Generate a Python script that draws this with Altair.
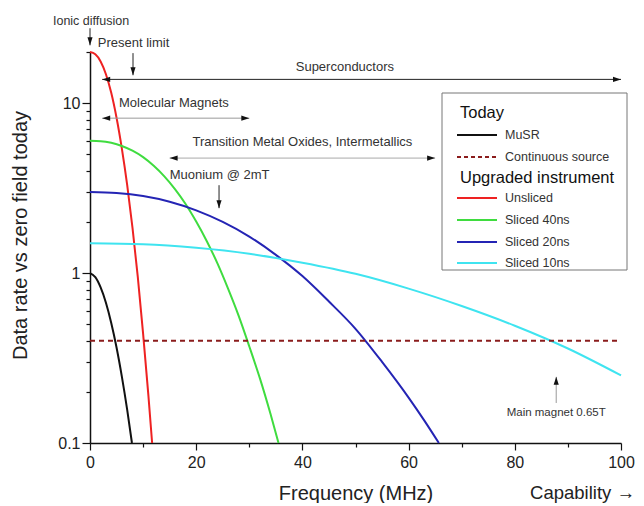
import altair as alt
import pandas as pd

FONT = "Liberation Sans"

# ---- curves ----
freq_musr = [0, 1, 2, 3, 4, 5, 6, 7, 7.9]
val_musr = [1, 0.946, 0.823, 0.669, 0.509, 0.365, 0.246, 0.157, 0.1]
freq_unsliced = [0, 1, 2, 3, 4, 5, 6, 7, 8, 9, 10, 11, 11.7]
val_unsliced = [20, 19.4, 17.6, 14.8, 11.5, 8.2, 5.4, 3.3, 1.85, 0.95, 0.44, 0.19, 0.1]
freq_40 = [0, 2, 4, 6, 8, 10, 12, 14, 16, 18, 20, 22, 24, 26, 28, 30, 32, 34, 35.5]
val_40 = [6, 5.97, 5.84, 5.60, 5.25, 4.81, 4.28, 3.71, 3.12, 2.55, 2.01, 1.54, 1.14, 0.81, 0.56, 0.37, 0.24, 0.148, 0.1]
freq_20 = [0, 5, 10, 15, 20, 25, 30, 35, 40, 45, 50, 55, 60, 63, 65.7]
val_20 = [3, 2.96, 2.84, 2.63, 2.34, 2.00, 1.64, 1.28, 0.96, 0.68, 0.47, 0.30, 0.185, 0.135, 0.1]
freq_10 = [0, 10, 20, 30, 40, 50, 60, 70, 80, 90, 100]
val_10 = [1.5, 1.48, 1.41, 1.30, 1.15, 0.99, 0.81, 0.64, 0.49, 0.36, 0.25]
continuous_level = 0.4

series_names = ["MuSR", "Unsliced", "Sliced 40ns", "Sliced 20ns", "Sliced 10ns"]
series_colors = ["#111111", "#ee2222", "#3fdc3f", "#2424b4", "#3fe4f0"]
cont_color = "#8b1c1c"

# ---- annotations ----
harrow_from = [2.3, 2.3, 15]
harrow_to = [100, 30, 65]
harrow_level = [13.8, 8.16, 4.75]
harrow_color = ["#222222", "#999999", "#aaaaaa"]

varrow_x = [0, 8.1, 24.3, 87.8]
varrow_tail = [27.6, 19.7, 3.29, 0.172]
varrow_tip = [21.9, 14.6, 2.41, 0.245]
varrow_color = ["#222222", "#222222", "#222222", "#999999"]

note_text = ["Ionic diffusion", "Present limit", "Superconductors", "Molecular Magnets",
             "Transition Metal Oxides, Intermetallics", "Muonium @ 2mT", "Main magnet 0.65T"]
note_f = [0.2, 8.2, 48, 15.8, 40, 24.4, 87.8]
note_v = [30.4, 22.5, 16.3, 10.0, 5.9, 3.77, 0.15]
note_size = [12.5, 13, 13, 13, 13, 13, 11.5]

legend_rows = ["Today", "MuSR", "Continuous source", "Upgraded instrument",
               "Unsliced", "Sliced 40ns", "Sliced 20ns", "Sliced 10ns"]

# ---- data frames ----
rows = []
for name, fs, vs in zip(series_names,
                        [freq_musr, freq_unsliced, freq_40, freq_20, freq_10],
                        [val_musr, val_unsliced, val_40, val_20, val_10]):
    for f, v in zip(fs, vs):
        rows.append({"series": name, "f": f, "v": v})
df_curves = pd.DataFrame(rows)

xs = alt.Scale(domain=[0, 100], nice=False)
ys = alt.Scale(type="log", domain=[0.1, 20], nice=False)

major_y = "datum.value == 0.1 || datum.value == 1 || datum.value == 10"
y_vals = [0.1, 0.2, 0.3, 0.4, 0.5, 0.6, 0.7, 0.8, 0.9, 1, 2, 3, 4, 5, 6, 7, 8, 9, 10, 20]

x_axis = alt.Axis(
    values=list(range(0, 101, 10)),
    labelExpr="datum.value % 20 == 0 ? datum.label : ''",
    tickSize={"condition": {"test": "datum.value % 20 == 0", "value": 7}, "value": 4},
    title="Frequency (MHz)", titleFontSize=20, titleFontWeight="normal",
    titleY=50, titleBaseline="middle", labelFontSize=16, labelPadding=4,
    labelFlush=False, grid=False, domainColor="#111", tickColor="#111",
    labelColor="#222", titleColor="#222", labelFont=FONT, titleFont=FONT,
    domainWidth=1.5, tickWidth=1.2, labelOverlap=False,
)
y_axis = alt.Axis(
    values=y_vals,
    labelExpr="datum.value == 0.1 ? '0.1' : datum.value == 1 ? '1' : datum.value == 10 ? '10' : ''",
    tickSize={"condition": {"test": major_y, "value": 8}, "value": 4},
    title="Data rate vs zero field today", titleFontSize=20, titleFontWeight="normal",
    titleAngle=270, titleX=-70, titleY=183, titleAlign="center", titleBaseline="middle",
    labelFontSize=16, labelPadding=2, grid=False, domainColor="#111", tickColor="#111",
    labelColor="#222", titleColor="#222", labelFont=FONT, titleFont=FONT,
    domainWidth=1.5, tickWidth=1.2, labelOverlap=False,
)

curves = alt.Chart(df_curves).mark_line(strokeWidth=2, interpolate="monotone").encode(
    x=alt.X("f:Q", scale=xs, axis=x_axis),
    y=alt.Y("v:Q", scale=ys, axis=y_axis),
    color=alt.Color("series:N", scale=alt.Scale(domain=series_names, range=series_colors), legend=None),
)

df_cont = pd.DataFrame({"f": [0], "f2": [100], "v": [continuous_level]})
cont = alt.Chart(df_cont).mark_rule(strokeWidth=2, strokeDash=[5, 4], color=cont_color).encode(
    x="f:Q", x2="f2:Q", y="v:Q")

df_h = pd.DataFrame({"f": harrow_from, "f2": harrow_to, "v": harrow_level, "c": harrow_color})
harrows = alt.Chart(df_h).mark_rule(strokeWidth=1).encode(
    x="f:Q", x2="f2:Q", y="v:Q", color=alt.Color("c:N", scale=None))

df_v = pd.DataFrame({"f": varrow_x, "v": varrow_tail, "v2": varrow_tip, "c": varrow_color})
varrows = alt.Chart(df_v).mark_rule(strokeWidth=1).encode(
    x="f:Q", y="v:Q", y2="v2:Q", color=alt.Color("c:N", scale=None))

head_rows = []
for a, b, lv in zip(harrow_from, harrow_to, harrow_level):
    head_rows.append({"f": a, "v": lv, "ang": 180})
    head_rows.append({"f": b, "v": lv, "ang": 0})
for x, t, p in zip(varrow_x, varrow_tail, varrow_tip):
    head_rows.append({"f": x, "v": p, "ang": 90 if p < t else 270})
df_heads = pd.DataFrame(head_rows)
heads = alt.Chart(df_heads).mark_point(
    shape="M0,0L-1,-0.32L-1,0.32Z", filled=True, size=256, color="#111", opacity=1, strokeWidth=0
).encode(x="f:Q", y="v:Q", angle=alt.Angle("ang:Q", scale=None))

df_notes = pd.DataFrame({"f": note_f, "v": note_v, "t": note_text, "s": note_size})
notes = alt.Chart(df_notes).mark_text(font=FONT, color="#333", align="center", baseline="middle").encode(
    x="f:Q", y="v:Q", text="t:N", size=alt.Size("s:Q", scale=None))

layers = [curves, cont, harrows, varrows, heads, notes]

# ---- hand-drawn legend box ----
one = pd.DataFrame({"a": [0]})
box = alt.Chart(one).mark_rect(fill="white", stroke="#777", strokeWidth=1).encode(
    x=alt.value(352), x2=alt.value(537), y=alt.value(41), y2=alt.value(218))
layers.append(box)

row_y = [61, 83, 105, 126, 146, 168, 190, 211]
sample_color = {"MuSR": series_colors[0], "Continuous source": cont_color,
                "Unsliced": series_colors[1], "Sliced 40ns": series_colors[2],
                "Sliced 20ns": series_colors[3], "Sliced 10ns": series_colors[4]}
for label, yy in zip(legend_rows, row_y):
    d = pd.DataFrame({"t": [label]})
    if label in sample_color:
        kw = {"strokeDash": [4, 3]} if label == "Continuous source" else {}
        layers.append(alt.Chart(d).mark_rule(color=sample_color[label], strokeWidth=2, **kw).encode(
            x=alt.value(367), x2=alt.value(407), y=alt.value(yy)))
        layers.append(alt.Chart(d).mark_text(font=FONT, fontSize=12.5, color="#333", align="left",
                                             baseline="middle").encode(
            x=alt.value(415), y=alt.value(yy), text="t:N"))
    else:
        layers.append(alt.Chart(d).mark_text(font=FONT, fontSize=16.5, color="#111", align="left",
                                             baseline="middle").encode(
            x=alt.value(370), y=alt.value(yy), text="t:N"))

cap = alt.Chart(pd.DataFrame({"t": ["Capability \u2192"]})).mark_text(
    font=FONT, fontSize=18.5, color="#222", align="right", baseline="middle").encode(
    x=alt.value(545), y=alt.value(441), text="t:N")
layers.append(cap)

chart = alt.layer(*layers).properties(
    width=531, height=391,
    autosize=alt.AutoSizeParams(type="none"),
    padding={"left": 82, "top": 44, "right": 15, "bottom": 60},
    background="white",
).configure_view(stroke=None)

chart.save("out.html", embed_options={"renderer": "svg", "actions": False})
